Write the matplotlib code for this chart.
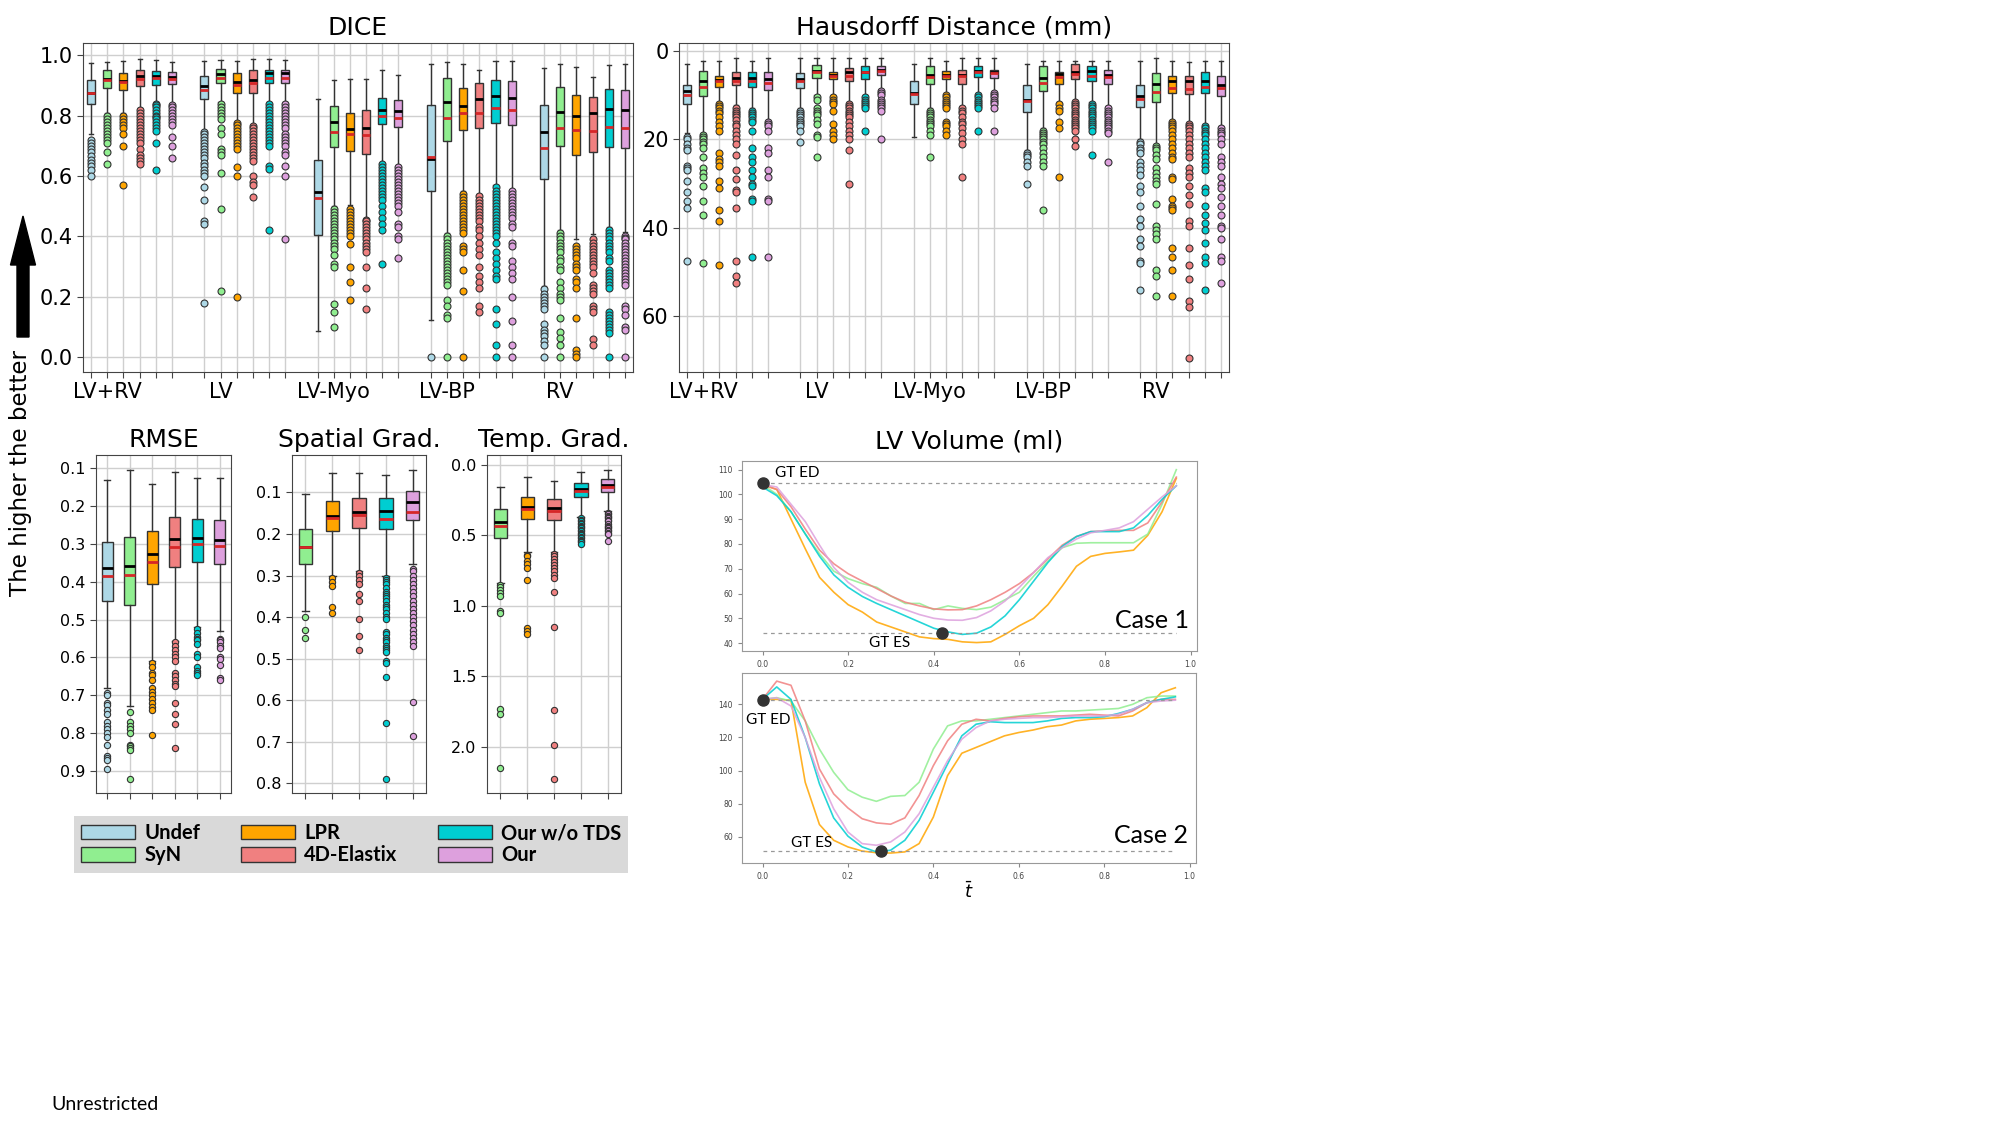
"""
    Registration benchmark figure: DICE / Hausdorff boxplots, smoothness boxplots
    and two LV volume curves.
"""
import matplotlib
matplotlib.use("Agg")
import matplotlib.pyplot as plt
from matplotlib.patches import Patch, FancyArrow

METHODS = ["Undef", "SyN", "LPR", "4D-Elastix", "Our w/o TDS", "Our"]
COLORS = ["lightblue", "lightgreen", "orange", "lightcoral", "darkturquoise", "plum"]
GROUPS = ["LV+RV", "LV", "LV-Myo", "LV-BP", "RV"]

# ---- DICE (per group, per method) ----
DICE_LO = [[.74, .81, .81, .825, .845, .84], [.75, .845, .78, .77, .845, .845],
           [.087, .50, .505, .46, .645, .635], [.123, .41, .55, .54, .57, .555],
           [.235, .42, .39, .408, .43, .415]]
DICE_Q1 = [[.84, .893, .884, .899, .901, .905], [.857, .907, .874, .877, .907, .91],
           [.405, .695, .684, .674, .772, .763], [.55, .715, .754, .761, .777, .768],
           [.591, .70, .669, .681, .698, .694]]
DICE_MED = [[.877, .923, .916, .932, .932, .93], [.898, .939, .912, .92, .94, .942],
            [.547, .778, .755, .759, .819, .816], [.657, .846, .831, .855, .865, .86],
            [.745, .811, .80, .809, .822, .818]]
DICE_MEAN = [[.874, .917, .911, .921, .924, .923], [.885, .925, .901, .909, .925, .925],
             [.528, .745, .739, .737, .80, .794], [.664, .794, .808, .808, .825, .819],
             [.693, .761, .753, .749, .764, .761]]
DICE_Q3 = [[.918, .951, .941, .951, .948, .946], [.931, .956, .94, .951, .953, .953],
           [.653, .831, .81, .819, .86, .852], [.834, .924, .893, .909, .917, .916],
           [.836, .894, .868, .863, .887, .885]]
DICE_HI = [[.975, .978, .98, .987, .984, .977], [.983, .986, .98, .987, .987, .984],
           [.857, .92, .921, .923, .95, .936], [.971, .979, .973, .95, .98, .98],
           [.959, .973, .962, .929, .968, .97]]
DICE_FLIERS = [
    [[.72, .71, .70, .69, .68, .665, .655, .645, .635, .62, .60],
     [.80, .79, .78, .77, .76, .75, .74, .73, .72, .71, .68, .64],
     [.80, .79, .78, .77, .76, .74, .70, .57],
     [.82, .81, .80, .79, .78, .77, .76, .75, .74, .73, .72, .71, .69, .67, .66, .65, .64],
     [.84, .835, .83, .82, .81, .80, .795, .79, .78, .77, .76, .75, .71, .62],
     [.835, .83, .82, .81, .80, .79, .78, .77, .73, .70, .66]],
    [[.745, .74, .73, .72, .71, .70, .69, .68, .67, .66, .645, .635, .62, .61, .60, .565,
      .52, .45, .44, .18],
     [.84, .83, .82, .81, .80, .79, .76, .74, .69, .68, .67, .61, .49, .22],
     [.775, .77, .76, .75, .74, .73, .72, .71, .70, .69, .63, .60, .20],
     [.765, .76, .75, .74, .73, .72, .71, .70, .69, .68, .67, .66, .65, .60, .58, .57, .53],
     [.84, .83, .82, .81, .80, .79, .78, .77, .76, .75, .74, .73, .72, .71, .70, .635,
      .625, .42],
     [.84, .83, .82, .81, .80, .79, .78, .77, .76, .74, .73, .72, .71, .70, .68, .67,
      .635, .60, .39]],
    [[],
     [.49, .48, .47, .46, .45, .44, .43, .42, .41, .40, .39, .38, .37, .36, .34, .31, .30,
      .175, .15, .10],
     [.49, .48, .47, .46, .45, .44, .43, .42, .41, .40, .375, .30, .25, .19],
     [.455, .45, .44, .43, .42, .41, .40, .39, .38, .37, .36, .35, .30, .23, .16],
     [.64, .63, .62, .61, .60, .59, .58, .57, .56, .55, .54, .53, .52, .50, .48, .46, .44,
      .42, .31],
     [.63, .62, .61, .60, .59, .58, .57, .56, .55, .54, .53, .52, .51, .50, .48, .44, .43,
      .40, .39, .33]],
    [[0.0],
     [.40, .39, .38, .37, .36, .35, .34, .33, .32, .31, .30, .29, .28, .27, .26, .25, .24,
      .19, .17, .14, .13, 0.0],
     [.54, .53, .52, .51, .50, .49, .48, .47, .46, .45, .44, .43, .42, .41, .37, .36, .35,
      .29, .22, 0.0],
     [.535, .52, .51, .50, .49, .48, .47, .46, .45, .43, .42, .40, .38, .36, .34, .30, .27,
      .25, .23, .17, .15],
     [.565, .55, .54, .53, .52, .51, .50, .49, .48, .47, .46, .45, .44, .43, .42, .41, .40,
      .38, .35, .33, .31, .29, .27, .26, .16, .11, .04, 0.0],
     [.55, .54, .53, .52, .51, .50, .49, .48, .47, .46, .44, .43, .38, .37, .32, .30, .28,
      .26, .20, .12, .04, 0.0]],
    [[.225, .21, .20, .19, .18, .17, .16, .11, .09, .08, .07, .055, .04, 0.0],
     [.41, .40, .39, .38, .37, .36, .35, .33, .32, .30, .29, .25, .23, .21, .20, .19, .13,
      .085, .065, .04, 0.0],
     [.37, .36, .35, .34, .33, .31, .30, .29, .26, .25, .23, .13, .025, .01, 0.0],
     [.39, .38, .37, .36, .35, .34, .33, .32, .31, .30, .28, .24, .23, .22, .21, .17, .16,
      .15, .06, .04],
     [.42, .41, .40, .39, .38, .37, .36, .35, .33, .32, .29, .28, .27, .26, .25, .24, .23,
      .15, .14, .13, .12, .11, .10, .09, .08, 0.0],
     [.40, .395, .39, .38, .37, .36, .35, .34, .33, .32, .31, .30, .29, .28, .27, .26, .25,
      .24, .17, .16, .14, .10, .09, 0.0]]]

# ---- Hausdorff distance (mm) ----
HD_LO = [[2.9, 2.3, 2.3, 1.5, 2.3, 1.7], [1.7, 1.7, 1.7, 1.7, 1.7, 1.7],
         [3.0, 1.7, 2.2, 1.7, 1.7, 1.7], [3.0, 2.3, 2.3, 2.3, 2.3, 2.3],
         [2.3, 1.7, 2.3, 2.4, 2.3, 2.3]]
HD_Q1 = [[7.7, 4.6, 5.7, 4.7, 4.7, 4.7], [4.9, 3.2, 4.8, 3.9, 3.5, 3.5],
         [6.8, 3.5, 4.5, 4.3, 3.5, 4.3], [7.8, 3.5, 4.7, 3.0, 3.5, 4.3],
         [7.7, 4.9, 5.7, 5.7, 4.8, 5.7]]
HD_MED = [[9.0, 6.7, 6.6, 6.1, 6.1, 6.3], [6.4, 4.6, 5.4, 4.8, 4.7, 4.3],
          [9.6, 5.4, 5.4, 5.4, 4.5, 4.7], [11.2, 6.1, 5.3, 4.8, 4.6, 5.4],
          [10.2, 7.5, 6.7, 6.9, 6.7, 7.7]]
HD_MEAN = [[10.0, 8.1, 6.9, 6.8, 6.8, 7.2], [6.8, 4.75, 5.6, 5.6, 4.8, 4.5],
           [9.7, 5.8, 5.6, 5.6, 4.8, 5.0], [11.3, 7.2, 5.8, 5.2, 5.6, 5.8],
           [10.9, 9.2, 8.3, 8.7, 8.2, 8.4]]
HD_Q3 = [[12.1, 10.2, 8.2, 7.8, 8.2, 8.8], [8.3, 6.2, 6.4, 6.8, 6.3, 5.5],
         [12.1, 7.5, 6.3, 7.5, 6.0, 6.2], [13.9, 9.0, 7.5, 6.4, 6.9, 7.5],
         [12.7, 11.5, 9.4, 9.8, 9.4, 10.2]]
HD_HI = [[18.5, 18.5, 11.5, 12.3, 13.0, 15.5], [13.0, 10.0, 10.0, 11.5, 10.0, 8.5],
         [19.5, 13.0, 9.5, 12.5, 9.5, 9.0], [22.5, 17.5, 11.5, 11.0, 11.5, 12.5],
         [20.0, 21.0, 15.5, 16.0, 16.5, 17.0]]
HD_FLIERS = [
    [[19.5, 20, 21, 22, 22.5, 26, 26.5, 27, 29.5, 32, 34, 35.5, 47.5],
     [19, 19.5, 20, 20.5, 21, 22, 24, 26.5, 27.5, 28.5, 30.5, 34, 37, 48],
     [12, 12.5, 13, 13.5, 14, 15, 16, 17, 18, 23, 24.5, 25, 26, 29.5, 31, 36, 38.5, 48.5],
     [13, 13.5, 14, 14.5, 15, 15.5, 16.5, 17, 18, 19, 20, 21, 23.5, 27, 29, 31.5, 32,
      35.5, 47.5, 51, 52.5],
     [13.5, 14, 14.5, 15, 15.5, 16, 18, 22, 24, 25, 27, 28.5, 30, 30.5, 33.5, 34, 46.5],
     [16, 16.5, 17, 18, 22, 23, 27, 28.5, 33.5, 34, 46.5]],
    [[13.5, 14, 14.5, 15, 15.5, 16, 16.5, 17, 18, 20.5],
     [10.5, 11, 13, 13.5, 14, 14.5, 15.5, 16.5, 19, 19.5, 24],
     [10.5, 11, 11.5, 12, 13.5, 16.5, 18, 19, 20],
     [12, 12.5, 13, 13.5, 14, 14.5, 15, 16, 17, 18, 19, 20, 22.5, 30],
     [10.5, 11, 11.5, 12, 12.5, 13, 18],
     [9, 9.5, 10, 11, 11.5, 12, 12.5, 13, 13.5, 20]],
    [[],
     [13.5, 14, 14.5, 15, 15.5, 16, 16.5, 17, 18, 19, 24],
     [10, 10.5, 11, 11.5, 12, 12.5, 13, 16, 16.5, 17, 18, 19],
     [13, 13.5, 14, 15, 16, 16.5, 17.5, 18.5, 20, 21, 28.5],
     [10, 10.5, 11, 11.5, 12, 12.5, 13, 18],
     [9.5, 10, 10.5, 11, 11.5, 12, 13, 18]],
    [[23, 23.5, 24, 25, 26, 30],
     [18, 18.5, 19, 19.5, 20, 20.5, 21, 22, 23, 24, 25, 26, 36],
     [12, 13, 13.5, 16, 17.5, 28.5],
     [11.5, 12, 12.5, 13, 13.5, 14, 14.5, 15, 15.5, 16, 16.5, 17, 17.5, 18, 20, 21.5],
     [12, 12.5, 13, 13.5, 14, 14.5, 15, 15.5, 16, 16.5, 17, 17.5, 18, 23.5],
     [13, 13.5, 14, 14.5, 15, 15.5, 16, 16.5, 17, 17.5, 18, 18.5, 25]],
    [[20.5, 21, 22, 22.5, 23, 25, 26, 27, 28, 30.5, 32, 35, 38, 39.5, 42.5, 44, 47.5,
      48, 54],
     [21.5, 22, 22.5, 23.5, 24.5, 26.5, 27.5, 28.5, 29.5, 30, 34.5, 39.5, 40.5, 41.5,
      42.5, 49.5, 51, 55.5],
     [16, 16.5, 17, 17.5, 18, 19, 20, 21, 22, 23, 24, 24.5, 28.5, 29, 33.5, 35, 35.5,
      36, 44.5, 46.5, 49.5, 55.5],
     [16.5, 17, 17.5, 18, 19, 20, 21, 22, 23, 24, 26.5, 27.5, 28.5, 30.5, 32.5, 34.5,
      38.5, 39.5, 44.5, 48.5, 51.5, 56.5, 58, 69.5],
     [17, 17.5, 18, 18.5, 19, 20, 21, 22, 23, 24, 25, 26, 27, 31, 32, 35, 37, 39, 40.5,
      43.5, 46.5, 48, 54],
     [17.5, 18, 18.5, 19, 20, 21, 24, 25, 26, 28.5, 30, 31, 33, 35, 37, 39.5, 40, 42.5,
      46.5, 47.5, 52.5]]]

# ---- RMSE (all six methods) ----
RMSE_LO = [.131, .105, .141, .111, .125, .125]
RMSE_Q1 = [.294, .282, .267, .230, .234, .236]
RMSE_MED = [.363, .358, .326, .288, .283, .289]
RMSE_MEAN = [.386, .382, .347, .307, .299, .305]
RMSE_Q3 = [.452, .461, .406, .360, .347, .353]
RMSE_HI = [.68, .728, .61, .557, .52, .53]
RMSE_FLIERS = [
    [.695, .70, .72, .725, .74, .75, .77, .78, .79, .80, .81, .83, .86, .865, .87, .895],
    [.745, .77, .78, .79, .80, .83, .835, .84, .845, .92],
    [.615, .625, .64, .645, .66, .68, .69, .70, .71, .72, .73, .74, .805],
    [.56, .57, .58, .59, .60, .61, .64, .65, .66, .67, .675, .72, .75, .775, .84],
    [.525, .535, .545, .55, .555, .565, .59, .60, .625, .635, .64, .645],
    [.55, .555, .56, .57, .575, .60, .605, .62, .655, .66]]

# ---- Spatial gradient (no Undef) ----
SG_LO = [.104, .053, .053, .057, .046]
SG_Q1 = [.189, .121, .113, .114, .097]
SG_MED = [.231, .156, .147, .144, .122]
SG_MEAN = [.232, .161, .155, .165, .147]
SG_Q3 = [.273, .193, .185, .189, .167]
SG_HI = [.385, .30, .29, .30, .273]
SG_FLIERS = [
    [.40, .43, .45],
    [.305, .315, .325, .375, .39],
    [.295, .30, .31, .32, .345, .36, .405, .445, .48],
    [.305, .31, .315, .32, .33, .34, .345, .35, .355, .36, .37, .375, .38, .39, .40, .405,
     .435, .44, .45, .455, .46, .47, .475, .48, .485, .505, .51, .545, .655, .79],
    [.285, .29, .30, .31, .32, .33, .34, .35, .36, .37, .38, .39, .40, .41, .42, .43, .44,
     .45, .46, .47, .605, .685]]

# ---- Temporal gradient (no Undef) ----
TG_LO = [.154, .088, .114, .052, .036]
TG_Q1 = [.31, .23, .239, .125, .102]
TG_MED = [.402, .30, .308, .17, .142]
TG_MEAN = [.436, .315, .329, .182, .154]
TG_Q3 = [.521, .386, .39, .225, .194]
TG_HI = [.84, .62, .62, .37, .33]
TG_FLIERS = [
    [.85, .87, .89, .91, .93, 1.04, 1.05, 1.73, 1.77, 2.15],
    [.64, .65, .68, .70, .73, .82, 1.16, 1.18, 1.20],
    [.63, .65, .67, .69, .71, .73, .75, .78, .80, .90, 1.15, 1.74, 1.99, 2.23],
    [.38, .39, .40, .41, .42, .43, .44, .45, .46, .47, .48, .49, .50, .51, .52, .53, .54,
     .55, .56],
    [.34, .35, .36, .37, .38, .39, .40, .42, .43, .44, .45, .46, .47, .48, .49, .54]]

# ---- LV volume curves, 30 frames over the normalised cycle ----
T_FRAMES = [i / 30 for i in range(30)]
CURVE_METHODS = ["LPR", "SyN", "4D-Elastix", "Our w/o TDS", "Our"]
CASE1 = {
    "LPR": [104, 102, 90, 78, 66.5, 60.5, 55.5, 52.5, 48.5, 46.5, 44.5, 42.5, 41.8, 41.5,
            40.5, 40.2, 40.5, 43.5, 47, 50, 55.5, 63, 71, 75, 76.2, 76.8, 77.5, 83.5, 93,
            106.5],
    "SyN": [104, 100, 93, 84, 76, 69, 66, 64, 62.5, 59, 56, 56, 53.5, 55, 54, 53.5, 54.5,
            57.5, 60.5, 67, 73, 78.5, 80.3, 80.5, 80.5, 80.5, 80.5, 84, 96, 110],
    "4D-Elastix": [104, 102, 95, 86, 77.5, 72, 68, 65, 62, 59, 56.5, 55, 53.8, 53.4, 53.5,
                   55, 57.5, 60.5, 64, 68.5, 74, 79.5, 83, 85, 85.3, 85.5, 85.5, 88.5, 97,
                   107],
    "Our w/o TDS": [103, 99.5, 93, 84, 75, 67.5, 62.5, 58.8, 56, 53.5, 51, 48.5, 46, 44.5,
                    43.5, 44, 46.5, 51, 57.5, 65, 72.5, 79, 83, 85, 85, 85, 86.5, 91.5, 98,
                    103.5],
    "Our": [104, 103, 96, 89, 79.5, 70.5, 64.5, 60.5, 57.5, 55.5, 53.5, 51.5, 50, 49.3,
            49.2, 50.3, 53, 57, 62.5, 68.5, 74.5, 78.5, 82, 84.5, 85.5, 86.5, 89, 94, 99,
            103.5],
}
CASE2 = {
    "LPR": [143, 143, 142.5, 93, 67.5, 58, 54, 51.5, 50.5, 50.3, 51, 56, 72, 97, 110.5,
            114, 117.5, 121, 123, 124.5, 126.5, 127.5, 130, 131, 131.5, 132, 133, 138,
            147, 150],
    "SyN": [143, 144, 142, 130, 113, 99, 88.5, 84, 81.5, 84.5, 85, 93, 113, 127, 130, 130,
            131, 132, 133, 134, 135, 136, 136, 136.5, 137, 137.5, 140, 144, 145, 145],
    "4D-Elastix": [143, 154, 151.5, 130, 101, 86, 77.5, 71, 68.5, 67.7, 71.5, 85, 103, 118,
                   128, 131, 130, 131.5, 132.5, 133, 133, 133, 133.5, 134, 133.5, 133, 136,
                   141, 143, 143],
    "Our w/o TDS": [143, 150.5, 143, 120, 92, 71.5, 60.5, 54, 51, 52, 58, 70, 87, 104, 121,
                    128, 129.5, 129, 129, 129, 130, 131.5, 132, 132, 132.5, 134.5, 137,
                    141, 143, 144.5],
    "Our": [143, 144, 139, 120, 96, 77, 63, 56, 55, 57, 63, 74, 90, 106, 119, 126, 130,
            131, 131.5, 132, 132, 132.5, 133, 133, 133, 134, 137, 141, 142, 142.5],
}
GT_ED = [104.7, 142.8]
GT_ES = [44.2, 51.4]
GT_ES_T = [0.42, 0.278]

W, H = 2000, 1125
fig = plt.figure(figsize=(W / 100, H / 100), dpi=100, facecolor="white")


def add_axes(left, top, right, bottom):
    """ Axes from pixel box. """
    return fig.add_axes([left / W, 1 - bottom / H, (right - left) / W, (bottom - top) / H])


def make_stats(lo, q1, med, mean, q3, hi, fliers):
    """ Build bxp stats dicts. """
    return [{"whislo": a, "q1": b, "med": c, "mean": d, "q3": e, "whishi": f, "fliers": g}
            for a, b, c, d, e, f, g in zip(lo, q1, med, mean, q3, hi, fliers)]


def draw_boxes(axes, stats, positions, colors, flier_ms):
    """ Draw coloured boxes with black median and red mean line. """
    parts = axes.bxp(stats, positions=positions, widths=0.5, patch_artist=True,
                     showmeans=True, meanline=True,
                     boxprops={"edgecolor": "#333333", "linewidth": 1},
                     whiskerprops={"color": "#333333", "linewidth": 1},
                     capprops={"color": "#333333", "linewidth": 1},
                     medianprops={"color": "black", "linewidth": 2},
                     meanprops={"color": "#d62728", "linewidth": 2, "linestyle": "-"},
                     flierprops={"marker": "o", "markersize": flier_ms,
                                 "markeredgecolor": "#333333", "markeredgewidth": 0.8})
    for box, color in zip(parts["boxes"], colors):
        box.set_facecolor(color)
    for flier, color in zip(parts["fliers"], colors):
        flier.set_markerfacecolor(color)


def style_axes(axes, labelsize):
    """ Grid, spines and ticks. """
    axes.grid(True, color="#cfcfcf", linewidth=1)
    axes.set_axisbelow(True)
    for spine in axes.spines.values():
        spine.set_color("#444444")
    axes.tick_params(labelsize=labelsize, length=4, color="#444444")


# ---- top row: DICE and Hausdorff ----
for box, lo, q1, med, mean, q3, hi, fl, title, ylim, yticks, fmt in [
        ((83, 43, 633, 372), DICE_LO, DICE_Q1, DICE_MED, DICE_MEAN, DICE_Q3, DICE_HI,
         DICE_FLIERS, "DICE", (-0.049, 1.041), [0, .2, .4, .6, .8, 1.0], "{:.1f}"),
        ((679, 43, 1229, 372), HD_LO, HD_Q1, HD_MED, HD_MEAN, HD_Q3, HD_HI, HD_FLIERS,
         "Hausdorff Distance (mm)", (72.6, -1.8), [0, 20, 40, 60], "{:d}")]:
    ax = add_axes(*box)
    positions, labels = [], []
    for g, group in enumerate(GROUPS):
        stats = make_stats(lo[g], q1[g], med[g], mean[g], q3[g], hi[g], fl[g])
        pos = [g * 7 + m for m in range(len(METHODS))]
        draw_boxes(ax, stats, pos, COLORS, 5)
        positions += pos
        labels += [group if m == 1 else "" for m in range(len(METHODS))]
    ax.set_xticks(positions)
    ax.set_xticklabels(labels)
    ax.set_xlim(-0.5, 33.5)
    ax.set_ylim(*ylim)
    ax.set_yticks(yticks)
    ax.set_yticklabels([fmt.format(v) for v in yticks])
    style_axes(ax, 15)
    ax.set_title(title, fontsize=18, pad=6)

# ---- bottom row: RMSE, spatial and temporal gradients ----
for box, lo, q1, med, mean, q3, hi, fl, title, ylim, yticks, colors in [
        ((96, 455, 231, 793), RMSE_LO, RMSE_Q1, RMSE_MED, RMSE_MEAN, RMSE_Q3, RMSE_HI,
         RMSE_FLIERS, "RMSE", (0.958, 0.065), [.1, .2, .3, .4, .5, .6, .7, .8, .9], COLORS),
        ((292, 455, 426, 793), SG_LO, SG_Q1, SG_MED, SG_MEAN, SG_Q3, SG_HI, SG_FLIERS,
         "Spatial Grad.", (0.823, 0.010), [.1, .2, .3, .4, .5, .6, .7, .8], COLORS[1:]),
        ((487, 455, 621, 793), TG_LO, TG_Q1, TG_MED, TG_MEAN, TG_Q3, TG_HI, TG_FLIERS,
         "Temp. Grad.", (2.33, -0.071), [0, .5, 1.0, 1.5, 2.0], COLORS[1:])]:
    ax = add_axes(*box)
    pos = list(range(1, len(colors) + 1))
    draw_boxes(ax, make_stats(lo, q1, med, mean, q3, hi, fl), pos, colors, 4.5)
    ax.set_xticks(pos)
    ax.set_xticklabels([""] * len(pos))
    ax.set_xlim(0.5, len(pos) + 0.5)
    ax.set_ylim(*ylim)
    ax.set_yticks(yticks)
    ax.set_yticklabels(["{:.1f}".format(v) for v in yticks])
    style_axes(ax, 11.5)
    ax.set_title(title, fontsize=18, pad=6)

# ---- LV volume curves ----
CURVE_COLORS = {"LPR": "orange", "SyN": "lightgreen", "4D-Elastix": "lightcoral",
                "Our w/o TDS": "darkturquoise", "Our": "plum"}
for idx, (box, case, ylim, yticks, label_pos) in enumerate([
        ((742, 461, 1197, 651), CASE1, (36.8, 113.5), [40, 50, 60, 70, 80, 90, 100, 110],
         [(0.03, 108.7), (0.248, 40), (0.824, 49.2)]),
        ((742, 673, 1196, 863), CASE2, (44.3, 158.9), [60, 80, 100, 120, 140],
         [(-0.038, 130.8), (0.067, 56.4), (0.824, 61)])]):
    ax = add_axes(*box)
    for name in CURVE_METHODS:
        ax.plot(T_FRAMES, case[name], color=CURVE_COLORS[name], linewidth=1.2, alpha=0.85)
    ax.hlines([GT_ED[idx], GT_ES[idx]], 0, T_FRAMES[-1], colors="#999999",
              linestyles=(0, (3, 3)), linewidth=0.9)
    ax.plot([0, GT_ES_T[idx]], [GT_ED[idx], GT_ES[idx]], "o", color="#333333",
            markersize=8, zorder=5)
    ax.text(*label_pos[0], "GT ED", fontsize=11, family="Lato", va="center")
    ax.text(*label_pos[1], "GT ES", fontsize=11, family="Lato", va="center")
    ax.text(*label_pos[2], "Case {}".format(idx + 1), fontsize=18, family="Lato",
            va="center")
    ax.set_xlim(-0.048, 1.015)
    ax.set_ylim(*ylim)
    ax.set_yticks(yticks)
    ax.set_xticks([0, .2, .4, .6, .8, 1.0])
    ax.tick_params(labelsize=5.5, labelcolor="#444444", color="#888888", length=3)
    for spine in ax.spines.values():
        spine.set_color("#999999")
    if idx == 0:
        ax.set_title("LV Volume (ml)", fontsize=18, pad=9)
    else:
        ax.set_xlabel(r"$\bar{t}$", fontsize=13, labelpad=0)

# ---- legend ----
handles = [Patch(facecolor=c, edgecolor="#333333", linewidth=1) for c in COLORS]
fig.legend(handles, METHODS, ncol=3, loc="upper left",
           bbox_to_anchor=(74 / W, 1 - 816 / H), bbox_transform=fig.transFigure,
           borderaxespad=0, borderpad=0.35, handlelength=2.7, handleheight=0.75,
           handletextpad=0.45, columnspacing=2.0, labelspacing=0.12,
           fancybox=False, framealpha=1, facecolor="#d9d9d9", edgecolor="none",
           prop={"family": "Lato", "weight": "bold", "size": 14.5})

# ---- side arrow and note ----
fig.patches.append(FancyArrow(
    23, H - 337, 0, 121, width=12, head_width=25, head_length=49,
    length_includes_head=True, color="black", transform=None, figure=fig))
fig.text(21 / W, 1 - 473 / H, "The higher the better", rotation=90, fontsize=16.5,
         ha="center", va="center")
fig.text(51 / W, 1 - 1105 / H, "Unrestricted", fontsize=14, family="Lato", va="center")

fig.savefig("out.png", dpi=100, facecolor="white")
